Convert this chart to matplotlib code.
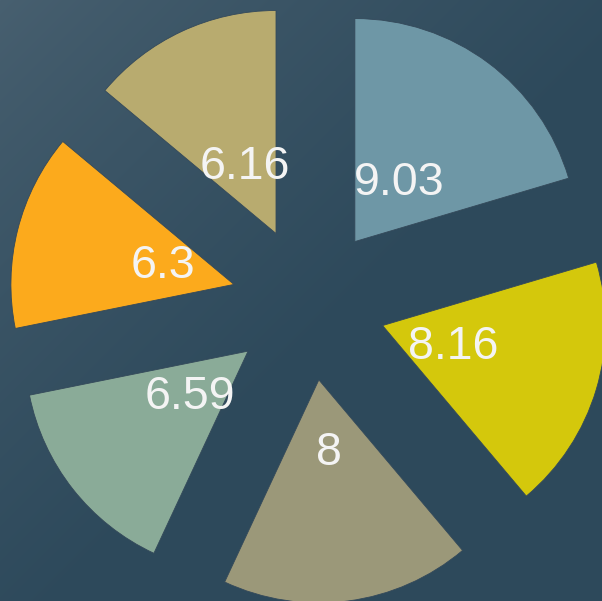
import numpy as np
import matplotlib.pyplot as plt

values = [9.03, 8.16, 8, 6.59, 6.3, 6.16]
labels = ['9.03', '8.16', '8', '6.59', '6.3', '6.16']
colors = ['#6e97a6', '#d4c80c', '#9b9879', '#8aab98', '#fcaa1c', '#b8ab6f']

fig = plt.figure(figsize=(6.02, 6.01), dpi=100)
ax = fig.add_axes([0, 0, 1, 1])
ax.set_zorder(2)

# diagonal background gradient, lighter at top-left
h, w = 601, 602
yy, xx = np.mgrid[0:h, 0:w]
t = (xx / w + yy / h) / 2
t = np.clip(t * 1.8, 0, 1) ** 0.8
c0 = np.array([72, 96, 112]) / 255
c1 = np.array([45, 73, 91]) / 255
bg = c0[None, None, :] * (1 - t[..., None]) + c1[None, None, :] * t[..., None]
fig.figimage(bg, 0, 0, zorder=0)
ax.set_facecolor('none')

wedges, texts = ax.pie(values, labels=labels, colors=colors, startangle=90,
                       counterclock=False, explode=[0.346] * len(values),
                       radius=1, labeldistance=0.33,
                       wedgeprops=dict(linewidth=0.6, edgecolor='#34495a'),
                       textprops=dict(color='#f4f4f4', fontsize=33.5,
                                      family=['Liberation Sans', 'DejaVu Sans']))
for txt in texts:
    txt.set_ha('center')
    txt.set_va('center')

r = 223.0
cx, cy = 308.7, 601 - 303.4
ax.set_xlim(-cx / r, (w - cx) / r)
ax.set_ylim(-cy / r, (h - cy) / r)
ax.set_aspect('equal')
ax.axis('off')

fig.savefig('out.png', dpi=100)
